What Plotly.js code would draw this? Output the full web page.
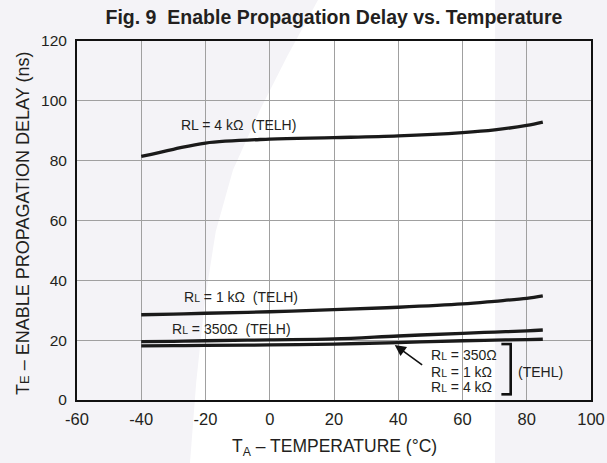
<!DOCTYPE html>
<html>
<head>
<meta charset="utf-8">
<script src="https://cdn.plot.ly/plotly-3.0.1.min.js"></script>
<style>html,body{margin:0;padding:0;background:#fff;}#chart{width:607px;height:463px;}</style>
</head>
<body>
<div id="chart"></div>
<script>
const temps = [-40, -30, -20, 0, 20, 40, 60, 70, 80, 85];
const telh4k = [81.4, 83.8, 85.9, 87.2, 87.7, 88.3, 89.4, 90.3, 91.8, 92.9];
const telh1k = [28.5, 28.7, 29.0, 29.5, 30.2, 31.0, 32.1, 33.0, 34.0, 34.8];
const telh350 = [19.5, 19.6, 19.8, 20.1, 20.4, 21.4, 22.3, 22.7, 23.1, 23.4];
const tehl = [18.1, 18.15, 18.25, 18.4, 18.7, 19.2, 19.8, 20.0, 20.2, 20.3];
const xTicks = [-60, -40, -20, 0, 20, 40, 60, 80, 100];
const yTicks = [0, 20, 40, 60, 80, 100, 120];

const FAM = 'Liberation Sans, Arial, Helvetica, sans-serif';
const TXT = '#231f20';
const lineStyle = {color: '#1a1a1a', width: 3.3, shape: 'spline', smoothing: 1};
const series = [telh4k, telh1k, telh350, tehl];
const traces = series.map(s => ({x: temps, y: s, mode: 'lines', line: lineStyle, hoverinfo: 'skip'}));

const sL = '<span style="font-size:10.5px">L</span>';
const lab = (x, y, text, extra) => Object.assign({x: x, y: y, text: text, showarrow: false, font: {family: FAM, size: 14, color: TXT}}, extra || {});

// decorative light band of the page background (paper coordinates)
const bandPath = 'M 0.4689,1.1142 L 0.41,0.96 L 0.356,0.8078 L 0.3035,0.6407 L 0.27,0.47 L 0.249,0.2786 L 0.232,0.05 L 0.2198,-0.1755 L 0.8132,-0.1755 L 0.8132,1.1142 Z';

const layout = {
  width: 607, height: 463,
  margin: {l: 77, r: 16, t: 41, b: 63},
  paper_bgcolor: '#f4f3f7', plot_bgcolor: 'rgba(0,0,0,0)',
  showlegend: false,
  font: {family: FAM, size: 14, color: TXT},
  title: {text: '<b>Fig. 9  Enable Propagation Delay vs. Temperature</b>', x: 0.5, xanchor: 'center', xref: 'paper',
          y: 0.963, yanchor: 'middle', font: {family: FAM, size: 19.5, color: TXT}},
  xaxis: {range: [-60, 100], tickvals: xTicks, ticktext: xTicks.map(String), showgrid: true, gridcolor: '#a0a0a0', gridwidth: 1,
          zeroline: false, showline: true, linecolor: '#111', linewidth: 2, mirror: true, ticks: 'outside', ticklen: 3, tickcolor: 'rgba(0,0,0,0)',
          tickfont: {size: 16.5, color: TXT, family: FAM}},
  yaxis: {range: [0, 120], tickvals: yTicks, ticktext: yTicks.map(String), showgrid: true, gridcolor: '#a0a0a0', gridwidth: 1,
          zeroline: false, showline: true, linecolor: '#111', linewidth: 2, mirror: true, ticks: 'outside', ticklen: 5, tickcolor: 'rgba(0,0,0,0)',
          tickfont: {size: 15.5, color: TXT, family: FAM}},
  annotations: [
    {xref: 'paper', yref: 'paper', x: 0.5, y: 0, yanchor: 'middle', yshift: -47, text: 'T<sub>A</sub> – TEMPERATURE (°C)', showarrow: false,
     font: {family: FAM, size: 17.5, color: TXT}},
    {xref: 'paper', yref: 'paper', x: 0, xanchor: 'center', xshift: -54, y: 0.5, yshift: -3.5, text: 'T<span style="font-size:13px">E</span> – ENABLE PROPAGATION DELAY (ns)', textangle: -90, showarrow: false,
     font: {family: FAM, size: 18, color: TXT}},
    lab(-9.65, 91.9, 'RL = 4 kΩ \u00a0(TELH)'),
    lab(-9.1, 34.3, 'R' + sL + ' = 1 kΩ \u00a0(TELH)'),
    lab(-11.9, 23.6, 'R' + sL + ' = 350Ω \u00a0(TELH)'),
    lab(49.6, 15.05, 'R' + sL + ' = 350Ω', {xanchor: 'left'}),
    lab(49.6, 9.5, 'R' + sL + ' = 1 kΩ', {xanchor: 'left'}),
    lab(49.6, 4.25, 'R' + sL + ' = 4 kΩ', {xanchor: 'left'}),
    lab(84.4, 9.5, '(TEHL)'),
    {x: 38.9, y: 18.4, ax: 47.9, ay: 11.4, axref: 'x', ayref: 'y', text: '', showarrow: true, arrowhead: 2, arrowsize: 1.4, arrowwidth: 1.6, arrowcolor: '#111', standoff: 0}
  ],
  shapes: [
    {type: 'path', xref: 'paper', yref: 'paper', path: bandPath, fillcolor: '#ffffff', line: {width: 0}, layer: 'below'},
    {type: 'line', xref: 'x', yref: 'y', x0: 75.0, x1: 75.0, y0: 18.7, y1: 1.9, line: {color: '#111', width: 2.6}},
    {type: 'line', xref: 'x', yref: 'y', x0: 72.1, x1: 75.4, y0: 18.7, y1: 18.7, line: {color: '#111', width: 2.6}},
    {type: 'line', xref: 'x', yref: 'y', x0: 72.1, x1: 75.4, y0: 1.9, y1: 1.9, line: {color: '#111', width: 2.6}}
  ]
};
Plotly.newPlot('chart', traces, layout, {displayModeBar: false, staticPlot: true});
</script>
</body>
</html>
